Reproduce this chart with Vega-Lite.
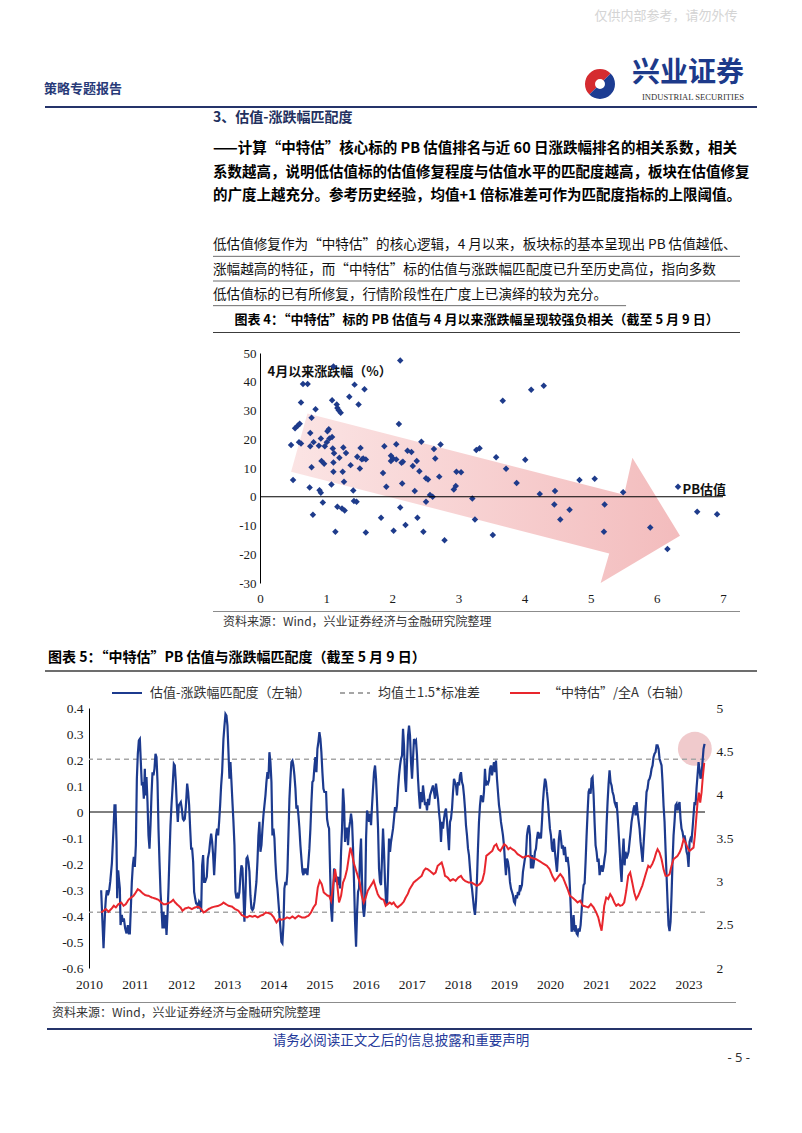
{
"$schema":"https://vega.github.io/schema/vega-lite/v6.json",
"padding":0,
"background":"white",
"spacing":0,
"align":"each",
"datasets":{
"blue":[{"t":2010.264,"v":-0.301},{"t":2010.315,"v":-0.524},{"t":2010.351,"v":-0.371},{"t":2010.366,"v":-0.332},{"t":2010.387,"v":-0.301},{"t":2010.409,"v":-0.32},{"t":2010.438,"v":-0.301},{"t":2010.46,"v":-0.269},{"t":2010.496,"v":-0.198},{"t":2010.532,"v":-0.064},{"t":2010.553,"v":0.026},{"t":2010.575,"v":0.026},{"t":2010.597,"v":-0.115},{"t":2010.611,"v":-0.332},{"t":2010.633,"v":-0.224},{"t":2010.655,"v":-0.269},{"t":2010.669,"v":-0.294},{"t":2010.684,"v":-0.435},{"t":2010.712,"v":-0.396},{"t":2010.734,"v":-0.422},{"t":2010.756,"v":-0.409},{"t":2010.785,"v":-0.448},{"t":2010.814,"v":-0.467},{"t":2010.842,"v":-0.435},{"t":2010.864,"v":-0.467},{"t":2010.886,"v":-0.467},{"t":2010.907,"v":-0.371},{"t":2010.929,"v":-0.269},{"t":2010.951,"v":-0.205},{"t":2010.972,"v":-0.173},{"t":2010.994,"v":-0.211},{"t":2011.016,"v":-0.128},{"t":2011.038,"v":0.128},{"t":2011.059,"v":0.224},{"t":2011.081,"v":0.275},{"t":2011.103,"v":0.281},{"t":2011.124,"v":0.192},{"t":2011.146,"v":0.102},{"t":2011.168,"v":0.115},{"t":2011.189,"v":0.051},{"t":2011.211,"v":0.166},{"t":2011.225,"v":0.064},{"t":2011.247,"v":0.134},{"t":2011.269,"v":0.038},{"t":2011.29,"v":-0.09},{"t":2011.312,"v":-0.141},{"t":2011.334,"v":-0.051},{"t":2011.355,"v":0.064},{"t":2011.377,"v":0.153},{"t":2011.399,"v":0.141},{"t":2011.42,"v":0.166},{"t":2011.442,"v":0.224},{"t":2011.464,"v":0.211},{"t":2011.486,"v":0.115},{"t":2011.507,"v":-0.064},{"t":2011.529,"v":-0.192},{"t":2011.551,"v":-0.307},{"t":2011.572,"v":-0.371},{"t":2011.594,"v":-0.448},{"t":2011.616,"v":-0.384},{"t":2011.637,"v":-0.448},{"t":2011.659,"v":-0.396},{"t":2011.681,"v":-0.473},{"t":2011.702,"v":-0.396},{"t":2011.724,"v":-0.294},{"t":2011.746,"v":-0.166},{"t":2011.767,"v":-0.051},{"t":2011.789,"v":0.026},{"t":2011.811,"v":0.09},{"t":2011.84,"v":0.185},{"t":2011.861,"v":0.179},{"t":2011.883,"v":0.115},{"t":2011.905,"v":0.026},{"t":2011.926,"v":-0.038},{"t":2011.948,"v":0.026},{"t":2011.97,"v":0.032},{"t":2011.991,"v":0.038},{"t":2012.013,"v":0.013},{"t":2012.035,"v":-0.026},{"t":2012.056,"v":-0.032},{"t":2012.078,"v":-0.026},{"t":2012.1,"v":0.019},{"t":2012.129,"v":0.109},{"t":2012.15,"v":0.077},{"t":2012.172,"v":0.026},{"t":2012.194,"v":-0.064},{"t":2012.215,"v":-0.141},{"t":2012.237,"v":-0.141},{"t":2012.259,"v":-0.192},{"t":2012.28,"v":-0.307},{"t":2012.302,"v":-0.332},{"t":2012.324,"v":-0.352},{"t":2012.345,"v":-0.352},{"t":2012.367,"v":-0.371},{"t":2012.389,"v":-0.345},{"t":2012.41,"v":-0.352},{"t":2012.432,"v":-0.384},{"t":2012.454,"v":-0.205},{"t":2012.475,"v":-0.166},{"t":2012.497,"v":-0.269},{"t":2012.519,"v":-0.269},{"t":2012.555,"v":-0.249},{"t":2012.577,"v":-0.179},{"t":2012.606,"v":-0.153},{"t":2012.627,"v":-0.115},{"t":2012.649,"v":-0.083},{"t":2012.671,"v":-0.115},{"t":2012.692,"v":-0.166},{"t":2012.714,"v":-0.243},{"t":2012.736,"v":-0.166},{"t":2012.757,"v":-0.09},{"t":2012.779,"v":-0.064},{"t":2012.801,"v":-0.09},{"t":2012.822,"v":-0.038},{"t":2012.844,"v":0.026},{"t":2012.866,"v":0.102},{"t":2012.887,"v":0.153},{"t":2012.916,"v":0.281},{"t":2012.938,"v":0.332},{"t":2012.96,"v":0.377},{"t":2012.981,"v":0.371},{"t":2013.003,"v":0.332},{"t":2013.025,"v":0.23},{"t":2013.046,"v":0.128},{"t":2013.068,"v":0.192},{"t":2013.09,"v":0.115},{"t":2013.111,"v":0.038},{"t":2013.133,"v":-0.038},{"t":2013.155,"v":-0.128},{"t":2013.176,"v":-0.307},{"t":2013.198,"v":-0.332},{"t":2013.22,"v":-0.32},{"t":2013.241,"v":-0.332},{"t":2013.263,"v":-0.307},{"t":2013.285,"v":-0.243},{"t":2013.306,"v":-0.205},{"t":2013.328,"v":-0.217},{"t":2013.35,"v":-0.32},{"t":2013.371,"v":-0.422},{"t":2013.393,"v":-0.32},{"t":2013.415,"v":-0.179},{"t":2013.436,"v":-0.173},{"t":2013.458,"v":-0.192},{"t":2013.48,"v":-0.23},{"t":2013.501,"v":-0.32},{"t":2013.523,"v":-0.371},{"t":2013.545,"v":-0.377},{"t":2013.566,"v":-0.371},{"t":2013.588,"v":-0.345},{"t":2013.61,"v":-0.307},{"t":2013.631,"v":-0.269},{"t":2013.653,"v":-0.192},{"t":2013.675,"v":-0.09},{"t":2013.696,"v":-0.038},{"t":2013.718,"v":-0.153},{"t":2013.74,"v":-0.128},{"t":2013.762,"v":-0.064},{"t":2013.783,"v":-0.013},{"t":2013.805,"v":0.026},{"t":2013.827,"v":0.064},{"t":2013.848,"v":0.115},{"t":2013.87,"v":0.153},{"t":2013.892,"v":0.128},{"t":2013.913,"v":0.23},{"t":2013.935,"v":0.192},{"t":2013.957,"v":0.115},{"t":2013.978,"v":-0.09},{"t":2014.0,"v":-0.064},{"t":2014.022,"v":-0.102},{"t":2014.043,"v":-0.192},{"t":2014.065,"v":-0.256},{"t":2014.087,"v":-0.294},{"t":2014.108,"v":-0.345},{"t":2014.13,"v":-0.396},{"t":2014.152,"v":-0.448},{"t":2014.173,"v":-0.499},{"t":2014.195,"v":-0.505},{"t":2014.217,"v":-0.435},{"t":2014.238,"v":-0.294},{"t":2014.26,"v":-0.269},{"t":2014.282,"v":-0.281},{"t":2014.303,"v":-0.23},{"t":2014.325,"v":-0.09},{"t":2014.347,"v":0.051},{"t":2014.368,"v":0.128},{"t":2014.39,"v":0.192},{"t":2014.412,"v":0.198},{"t":2014.433,"v":0.179},{"t":2014.455,"v":0.141},{"t":2014.477,"v":0.09},{"t":2014.498,"v":0.013},{"t":2014.52,"v":0.026},{"t":2014.542,"v":-0.013},{"t":2014.564,"v":-0.064},{"t":2014.585,"v":-0.128},{"t":2014.607,"v":-0.179},{"t":2014.629,"v":-0.23},{"t":2014.65,"v":-0.243},{"t":2014.672,"v":-0.217},{"t":2014.694,"v":-0.237},{"t":2014.715,"v":-0.217},{"t":2014.737,"v":-0.243},{"t":2014.759,"v":-0.192},{"t":2014.78,"v":-0.141},{"t":2014.802,"v":-0.064},{"t":2014.824,"v":0.038},{"t":2014.845,"v":0.115},{"t":2014.867,"v":0.121},{"t":2014.889,"v":0.173},{"t":2014.91,"v":0.211},{"t":2014.932,"v":0.153},{"t":2014.954,"v":0.243},{"t":2014.975,"v":0.269},{"t":2014.997,"v":0.307},{"t":2015.019,"v":0.281},{"t":2015.04,"v":0.23},{"t":2015.062,"v":0.153},{"t":2015.084,"v":0.09},{"t":2015.105,"v":0.077},{"t":2015.142,"v":0.077},{"t":2015.163,"v":-0.026},{"t":2015.185,"v":-0.051},{"t":2015.207,"v":-0.064},{"t":2015.228,"v":-0.217},{"t":2015.25,"v":-0.371},{"t":2015.272,"v":-0.422},{"t":2015.293,"v":-0.32},{"t":2015.315,"v":-0.217},{"t":2015.337,"v":-0.249},{"t":2015.358,"v":-0.269},{"t":2015.38,"v":-0.249},{"t":2015.402,"v":-0.281},{"t":2015.423,"v":-0.249},{"t":2015.445,"v":-0.294},{"t":2015.467,"v":-0.153},{"t":2015.488,"v":-0.064},{"t":2015.51,"v":0.09},{"t":2015.532,"v":0.026},{"t":2015.553,"v":-0.115},{"t":2015.575,"v":-0.064},{"t":2015.597,"v":-0.064},{"t":2015.618,"v":-0.128},{"t":2015.64,"v":-0.064},{"t":2015.662,"v":-0.038},{"t":2015.683,"v":-0.006},{"t":2015.705,"v":-0.038},{"t":2015.727,"v":-0.141},{"t":2015.748,"v":-0.269},{"t":2015.77,"v":-0.422},{"t":2015.792,"v":-0.518},{"t":2015.814,"v":-0.384},{"t":2015.835,"v":-0.307},{"t":2015.857,"v":-0.294},{"t":2015.879,"v":-0.166},{"t":2015.9,"v":-0.102},{"t":2015.922,"v":-0.269},{"t":2015.944,"v":-0.371},{"t":2015.965,"v":-0.403},{"t":2015.987,"v":-0.358},{"t":2016.009,"v":-0.102},{"t":2016.03,"v":0.006},{"t":2016.052,"v":-0.013},{"t":2016.074,"v":-0.038},{"t":2016.095,"v":-0.006},{"t":2016.117,"v":-0.051},{"t":2016.139,"v":0.026},{"t":2016.16,"v":0.09},{"t":2016.182,"v":0.153},{"t":2016.204,"v":0.179},{"t":2016.225,"v":0.128},{"t":2016.247,"v":0.038},{"t":2016.269,"v":-0.064},{"t":2016.29,"v":-0.217},{"t":2016.312,"v":-0.269},{"t":2016.334,"v":-0.281},{"t":2016.355,"v":-0.179},{"t":2016.377,"v":-0.064},{"t":2016.399,"v":-0.153},{"t":2016.42,"v":-0.269},{"t":2016.442,"v":-0.345},{"t":2016.464,"v":-0.358},{"t":2016.485,"v":-0.243},{"t":2016.507,"v":-0.102},{"t":2016.529,"v":-0.153},{"t":2016.55,"v":-0.115},{"t":2016.572,"v":-0.09},{"t":2016.594,"v":-0.064},{"t":2016.615,"v":-0.026},{"t":2016.637,"v":0.019},{"t":2016.659,"v":0.0},{"t":2016.68,"v":0.026},{"t":2016.702,"v":0.09},{"t":2016.724,"v":0.141},{"t":2016.746,"v":0.179},{"t":2016.767,"v":0.205},{"t":2016.789,"v":0.217},{"t":2016.811,"v":0.32},{"t":2016.832,"v":0.256},{"t":2016.854,"v":0.128},{"t":2016.876,"v":0.077},{"t":2016.897,"v":0.192},{"t":2016.919,"v":0.294},{"t":2016.941,"v":0.332},{"t":2016.962,"v":0.294},{"t":2016.984,"v":0.192},{"t":2017.006,"v":0.128},{"t":2017.027,"v":0.205},{"t":2017.049,"v":0.281},{"t":2017.071,"v":0.269},{"t":2017.092,"v":0.275},{"t":2017.114,"v":0.217},{"t":2017.136,"v":0.128},{"t":2017.157,"v":0.064},{"t":2017.179,"v":0.013},{"t":2017.201,"v":0.077},{"t":2017.223,"v":0.038},{"t":2017.244,"v":0.102},{"t":2017.266,"v":0.064},{"t":2017.288,"v":0.026},{"t":2017.309,"v":0.038},{"t":2017.331,"v":0.006},{"t":2017.353,"v":0.051},{"t":2017.374,"v":0.026},{"t":2017.396,"v":0.064},{"t":2017.418,"v":0.077},{"t":2017.439,"v":0.09},{"t":2017.461,"v":0.102},{"t":2017.483,"v":0.077},{"t":2017.504,"v":0.051},{"t":2017.526,"v":0.109},{"t":2017.548,"v":0.077},{"t":2017.569,"v":0.051},{"t":2017.591,"v":0.0},{"t":2017.613,"v":-0.038},{"t":2017.634,"v":-0.115},{"t":2017.656,"v":-0.038},{"t":2017.678,"v":-0.064},{"t":2017.699,"v":-0.026},{"t":2017.721,"v":0.0},{"t":2017.743,"v":0.013},{"t":2017.765,"v":-0.038},{"t":2017.786,"v":-0.09},{"t":2017.808,"v":-0.147},{"t":2017.83,"v":-0.038},{"t":2017.851,"v":-0.026},{"t":2017.873,"v":0.013},{"t":2017.895,"v":0.077},{"t":2017.916,"v":0.128},{"t":2017.938,"v":0.115},{"t":2017.96,"v":0.102},{"t":2017.981,"v":0.064},{"t":2018.003,"v":0.115},{"t":2018.025,"v":0.102},{"t":2018.046,"v":0.141},{"t":2018.068,"v":0.153},{"t":2018.09,"v":0.115},{"t":2018.111,"v":0.102},{"t":2018.133,"v":0.064},{"t":2018.155,"v":0.013},{"t":2018.176,"v":-0.051},{"t":2018.198,"v":-0.09},{"t":2018.22,"v":-0.141},{"t":2018.241,"v":-0.166},{"t":2018.263,"v":-0.217},{"t":2018.285,"v":-0.269},{"t":2018.306,"v":-0.294},{"t":2018.328,"v":-0.332},{"t":2018.35,"v":-0.371},{"t":2018.371,"v":-0.396},{"t":2018.393,"v":-0.345},{"t":2018.415,"v":-0.256},{"t":2018.436,"v":-0.141},{"t":2018.458,"v":-0.038},{"t":2018.48,"v":0.026},{"t":2018.501,"v":0.064},{"t":2018.523,"v":0.051},{"t":2018.545,"v":0.038},{"t":2018.566,"v":0.077},{"t":2018.588,"v":0.166},{"t":2018.61,"v":0.102},{"t":2018.631,"v":0.115},{"t":2018.653,"v":0.109},{"t":2018.675,"v":0.121},{"t":2018.696,"v":0.166},{"t":2018.718,"v":0.179},{"t":2018.74,"v":0.141},{"t":2018.761,"v":0.166},{"t":2018.783,"v":0.192},{"t":2018.805,"v":0.153},{"t":2018.827,"v":0.198},{"t":2018.848,"v":0.128},{"t":2018.87,"v":0.077},{"t":2018.892,"v":0.026},{"t":2018.913,"v":0.0},{"t":2018.935,"v":-0.038},{"t":2018.957,"v":-0.064},{"t":2018.978,"v":-0.09},{"t":2019.0,"v":-0.128},{"t":2019.022,"v":-0.192},{"t":2019.043,"v":-0.243},{"t":2019.065,"v":-0.179},{"t":2019.087,"v":-0.192},{"t":2019.108,"v":-0.217},{"t":2019.13,"v":-0.269},{"t":2019.152,"v":-0.294},{"t":2019.173,"v":-0.307},{"t":2019.195,"v":-0.32},{"t":2019.217,"v":-0.345},{"t":2019.238,"v":-0.352},{"t":2019.26,"v":-0.32},{"t":2019.282,"v":-0.332},{"t":2019.303,"v":-0.307},{"t":2019.325,"v":-0.32},{"t":2019.347,"v":-0.281},{"t":2019.368,"v":-0.294},{"t":2019.39,"v":-0.281},{"t":2019.412,"v":-0.23},{"t":2019.433,"v":-0.205},{"t":2019.455,"v":-0.179},{"t":2019.477,"v":-0.166},{"t":2019.499,"v":-0.09},{"t":2019.52,"v":-0.064},{"t":2019.542,"v":-0.051},{"t":2019.564,"v":-0.09},{"t":2019.585,"v":-0.217},{"t":2019.607,"v":-0.166},{"t":2019.629,"v":-0.217},{"t":2019.65,"v":-0.192},{"t":2019.672,"v":-0.153},{"t":2019.694,"v":-0.141},{"t":2019.715,"v":-0.102},{"t":2019.737,"v":-0.077},{"t":2019.759,"v":-0.102},{"t":2019.78,"v":-0.09},{"t":2019.802,"v":-0.102},{"t":2019.824,"v":-0.038},{"t":2019.845,"v":0.038},{"t":2019.867,"v":0.09},{"t":2019.889,"v":0.128},{"t":2019.91,"v":0.115},{"t":2019.932,"v":0.077},{"t":2019.954,"v":0.038},{"t":2019.975,"v":-0.013},{"t":2019.997,"v":-0.064},{"t":2020.019,"v":-0.09},{"t":2020.04,"v":-0.141},{"t":2020.062,"v":-0.153},{"t":2020.084,"v":-0.102},{"t":2020.105,"v":-0.153},{"t":2020.127,"v":-0.192},{"t":2020.149,"v":-0.23},{"t":2020.171,"v":-0.166},{"t":2020.192,"v":-0.102},{"t":2020.214,"v":-0.07},{"t":2020.236,"v":-0.102},{"t":2020.257,"v":-0.141},{"t":2020.279,"v":-0.128},{"t":2020.301,"v":-0.166},{"t":2020.322,"v":-0.134},{"t":2020.351,"v":-0.192},{"t":2020.38,"v":-0.173},{"t":2020.409,"v":-0.217},{"t":2020.431,"v":-0.294},{"t":2020.452,"v":-0.384},{"t":2020.467,"v":-0.46},{"t":2020.488,"v":-0.448},{"t":2020.51,"v":-0.396},{"t":2020.532,"v":-0.46},{"t":2020.553,"v":-0.435},{"t":2020.575,"v":-0.467},{"t":2020.597,"v":-0.473},{"t":2020.618,"v":-0.448},{"t":2020.64,"v":-0.46},{"t":2020.662,"v":-0.435},{"t":2020.683,"v":-0.384},{"t":2020.705,"v":-0.32},{"t":2020.727,"v":-0.281},{"t":2020.749,"v":-0.275},{"t":2020.77,"v":-0.192},{"t":2020.792,"v":-0.09},{"t":2020.814,"v":0.0},{"t":2020.835,"v":0.077},{"t":2020.857,"v":0.09},{"t":2020.879,"v":0.07},{"t":2020.9,"v":0.128},{"t":2020.922,"v":0.134},{"t":2020.944,"v":0.064},{"t":2020.965,"v":-0.038},{"t":2020.987,"v":-0.128},{"t":2021.009,"v":-0.153},{"t":2021.03,"v":-0.192},{"t":2021.052,"v":-0.179},{"t":2021.074,"v":-0.243},{"t":2021.095,"v":-0.217},{"t":2021.117,"v":-0.205},{"t":2021.139,"v":-0.23},{"t":2021.16,"v":-0.211},{"t":2021.182,"v":-0.179},{"t":2021.204,"v":-0.153},{"t":2021.225,"v":-0.051},{"t":2021.247,"v":0.038},{"t":2021.269,"v":0.109},{"t":2021.29,"v":0.16},{"t":2021.312,"v":0.115},{"t":2021.334,"v":0.102},{"t":2021.355,"v":0.077},{"t":2021.377,"v":0.064},{"t":2021.399,"v":0.038},{"t":2021.42,"v":0.026},{"t":2021.442,"v":0.038},{"t":2021.464,"v":-0.013},{"t":2021.486,"v":-0.077},{"t":2021.507,"v":-0.141},{"t":2021.529,"v":-0.217},{"t":2021.551,"v":-0.269},{"t":2021.572,"v":-0.166},{"t":2021.594,"v":-0.102},{"t":2021.616,"v":-0.205},{"t":2021.637,"v":-0.153},{"t":2021.659,"v":-0.179},{"t":2021.681,"v":-0.166},{"t":2021.702,"v":-0.153},{"t":2021.724,"v":-0.115},{"t":2021.746,"v":-0.077},{"t":2021.767,"v":-0.038},{"t":2021.789,"v":-0.013},{"t":2021.811,"v":0.013},{"t":2021.832,"v":0.026},{"t":2021.854,"v":-0.013},{"t":2021.876,"v":0.038},{"t":2021.897,"v":0.0},{"t":2021.919,"v":-0.032},{"t":2021.941,"v":-0.064},{"t":2021.962,"v":-0.115},{"t":2021.984,"v":-0.153},{"t":2022.006,"v":-0.192},{"t":2022.027,"v":-0.128},{"t":2022.049,"v":-0.064},{"t":2022.071,"v":0.013},{"t":2022.092,"v":0.077},{"t":2022.114,"v":0.09},{"t":2022.136,"v":0.121},{"t":2022.158,"v":0.128},{"t":2022.179,"v":0.141},{"t":2022.201,"v":0.166},{"t":2022.223,"v":0.179},{"t":2022.244,"v":0.211},{"t":2022.266,"v":0.224},{"t":2022.288,"v":0.23},{"t":2022.309,"v":0.256},{"t":2022.331,"v":0.256},{"t":2022.353,"v":0.243},{"t":2022.374,"v":0.205},{"t":2022.396,"v":0.192},{"t":2022.418,"v":0.179},{"t":2022.439,"v":0.115},{"t":2022.461,"v":0.026},{"t":2022.483,"v":-0.038},{"t":2022.504,"v":-0.141},{"t":2022.526,"v":-0.243},{"t":2022.548,"v":-0.345},{"t":2022.569,"v":-0.435},{"t":2022.591,"v":-0.458},{"t":2022.613,"v":-0.422},{"t":2022.634,"v":-0.32},{"t":2022.656,"v":-0.192},{"t":2022.678,"v":-0.09},{"t":2022.699,"v":-0.038},{"t":2022.721,"v":0.026},{"t":2022.743,"v":0.032},{"t":2022.764,"v":0.006},{"t":2022.786,"v":0.026},{"t":2022.808,"v":0.038},{"t":2022.829,"v":-0.026},{"t":2022.851,"v":-0.064},{"t":2022.873,"v":-0.077},{"t":2022.895,"v":-0.102},{"t":2022.916,"v":-0.09},{"t":2022.938,"v":-0.115},{"t":2022.96,"v":-0.153},{"t":2022.981,"v":-0.166},{"t":2023.003,"v":-0.211},{"t":2023.025,"v":-0.115},{"t":2023.046,"v":-0.102},{"t":2023.068,"v":-0.109},{"t":2023.09,"v":-0.064},{"t":2023.111,"v":-0.013},{"t":2023.133,"v":0.038},{"t":2023.155,"v":0.026},{"t":2023.176,"v":0.09},{"t":2023.198,"v":0.141},{"t":2023.22,"v":0.192},{"t":2023.241,"v":0.166},{"t":2023.263,"v":0.128},{"t":2023.285,"v":0.141},{"t":2023.306,"v":0.192},{"t":2023.328,"v":0.243},{"t":2023.35,"v":0.262}],
"red":[{"t":2010.264,"r":2.641},{"t":2010.315,"r":2.66},{"t":2010.366,"r":2.68},{"t":2010.423,"r":2.649},{"t":2010.481,"r":2.68},{"t":2010.539,"r":2.718},{"t":2010.582,"r":2.699},{"t":2010.64,"r":2.737},{"t":2010.698,"r":2.756},{"t":2010.749,"r":2.718},{"t":2010.799,"r":2.737},{"t":2010.857,"r":2.787},{"t":2010.915,"r":2.814},{"t":2010.965,"r":2.833},{"t":2011.016,"r":2.872},{"t":2011.059,"r":2.91},{"t":2011.11,"r":2.891},{"t":2011.16,"r":2.864},{"t":2011.218,"r":2.841},{"t":2011.29,"r":2.833},{"t":2011.363,"r":2.814},{"t":2011.435,"r":2.802},{"t":2011.507,"r":2.787},{"t":2011.565,"r":2.756},{"t":2011.616,"r":2.737},{"t":2011.666,"r":2.737},{"t":2011.724,"r":2.749},{"t":2011.782,"r":2.764},{"t":2011.825,"r":2.787},{"t":2011.869,"r":2.756},{"t":2011.926,"r":2.726},{"t":2011.984,"r":2.699},{"t":2012.028,"r":2.66},{"t":2012.085,"r":2.687},{"t":2012.158,"r":2.699},{"t":2012.23,"r":2.68},{"t":2012.302,"r":2.699},{"t":2012.374,"r":2.707},{"t":2012.432,"r":2.68},{"t":2012.483,"r":2.641},{"t":2012.519,"r":2.649},{"t":2012.591,"r":2.68},{"t":2012.663,"r":2.699},{"t":2012.736,"r":2.71},{"t":2012.808,"r":2.718},{"t":2012.88,"r":2.737},{"t":2012.916,"r":2.756},{"t":2012.967,"r":2.737},{"t":2013.025,"r":2.718},{"t":2013.097,"r":2.71},{"t":2013.169,"r":2.68},{"t":2013.241,"r":2.66},{"t":2013.314,"r":2.61},{"t":2013.371,"r":2.595},{"t":2013.429,"r":2.584},{"t":2013.487,"r":2.603},{"t":2013.545,"r":2.591},{"t":2013.603,"r":2.603},{"t":2013.66,"r":2.584},{"t":2013.718,"r":2.603},{"t":2013.776,"r":2.614},{"t":2013.834,"r":2.641},{"t":2013.892,"r":2.634},{"t":2013.949,"r":2.622},{"t":2014.007,"r":2.584},{"t":2014.065,"r":2.526},{"t":2014.123,"r":2.565},{"t":2014.181,"r":2.557},{"t":2014.238,"r":2.565},{"t":2014.296,"r":2.584},{"t":2014.354,"r":2.572},{"t":2014.412,"r":2.595},{"t":2014.47,"r":2.572},{"t":2014.542,"r":2.603},{"t":2014.614,"r":2.584},{"t":2014.686,"r":2.584},{"t":2014.759,"r":2.603},{"t":2014.816,"r":2.641},{"t":2014.867,"r":2.699},{"t":2014.918,"r":2.737},{"t":2014.962,"r":2.929},{"t":2015.005,"r":3.006},{"t":2015.048,"r":2.967},{"t":2015.092,"r":2.871},{"t":2015.135,"r":2.852},{"t":2015.178,"r":2.833},{"t":2015.207,"r":2.833},{"t":2015.25,"r":2.776},{"t":2015.293,"r":2.948},{"t":2015.337,"r":3.14},{"t":2015.38,"r":2.987},{"t":2015.423,"r":2.756},{"t":2015.467,"r":2.833},{"t":2015.51,"r":2.987},{"t":2015.553,"r":3.044},{"t":2015.597,"r":3.14},{"t":2015.64,"r":3.293},{"t":2015.669,"r":3.389},{"t":2015.698,"r":3.332},{"t":2015.741,"r":3.216},{"t":2015.784,"r":3.14},{"t":2015.828,"r":3.063},{"t":2015.871,"r":2.987},{"t":2015.915,"r":2.833},{"t":2015.958,"r":2.756},{"t":2016.002,"r":2.814},{"t":2016.045,"r":2.891},{"t":2016.088,"r":2.929},{"t":2016.132,"r":2.967},{"t":2016.175,"r":3.006},{"t":2016.218,"r":2.929},{"t":2016.262,"r":2.852},{"t":2016.305,"r":2.814},{"t":2016.348,"r":2.795},{"t":2016.392,"r":2.787},{"t":2016.435,"r":2.718},{"t":2016.478,"r":2.737},{"t":2016.522,"r":2.756},{"t":2016.565,"r":2.737},{"t":2016.608,"r":2.756},{"t":2016.652,"r":2.718},{"t":2016.695,"r":2.699},{"t":2016.738,"r":2.718},{"t":2016.782,"r":2.737},{"t":2016.825,"r":2.764},{"t":2016.869,"r":2.814},{"t":2016.912,"r":2.852},{"t":2016.955,"r":2.91},{"t":2016.999,"r":2.948},{"t":2017.042,"r":2.987},{"t":2017.085,"r":3.006},{"t":2017.129,"r":3.025},{"t":2017.172,"r":3.044},{"t":2017.215,"r":3.063},{"t":2017.259,"r":3.121},{"t":2017.302,"r":3.148},{"t":2017.345,"r":3.14},{"t":2017.389,"r":3.121},{"t":2017.432,"r":3.102},{"t":2017.475,"r":3.083},{"t":2017.519,"r":3.102},{"t":2017.562,"r":3.179},{"t":2017.605,"r":3.198},{"t":2017.649,"r":3.217},{"t":2017.692,"r":3.14},{"t":2017.721,"r":3.063},{"t":2017.779,"r":3.044},{"t":2017.837,"r":3.006},{"t":2017.895,"r":3.025},{"t":2017.952,"r":3.006},{"t":2018.01,"r":3.044},{"t":2018.068,"r":3.063},{"t":2018.111,"r":3.025},{"t":2018.155,"r":3.006},{"t":2018.227,"r":2.987},{"t":2018.299,"r":2.987},{"t":2018.357,"r":2.967},{"t":2018.415,"r":2.948},{"t":2018.473,"r":2.967},{"t":2018.53,"r":3.006},{"t":2018.574,"r":3.102},{"t":2018.617,"r":3.294},{"t":2018.66,"r":3.313},{"t":2018.704,"r":3.332},{"t":2018.747,"r":3.351},{"t":2018.79,"r":3.409},{"t":2018.834,"r":3.428},{"t":2018.877,"r":3.37},{"t":2018.92,"r":3.351},{"t":2018.964,"r":3.389},{"t":2019.007,"r":3.428},{"t":2019.051,"r":3.409},{"t":2019.094,"r":3.37},{"t":2019.137,"r":3.389},{"t":2019.181,"r":3.37},{"t":2019.238,"r":3.351},{"t":2019.296,"r":3.313},{"t":2019.354,"r":3.294},{"t":2019.412,"r":3.274},{"t":2019.47,"r":3.286},{"t":2019.527,"r":3.294},{"t":2019.585,"r":3.274},{"t":2019.643,"r":3.263},{"t":2019.701,"r":3.255},{"t":2019.759,"r":3.236},{"t":2019.817,"r":3.217},{"t":2019.874,"r":3.198},{"t":2019.932,"r":3.179},{"t":2019.99,"r":3.14},{"t":2020.048,"r":3.063},{"t":2020.106,"r":3.006},{"t":2020.163,"r":3.044},{"t":2020.221,"r":3.083},{"t":2020.279,"r":3.044},{"t":2020.322,"r":2.987},{"t":2020.38,"r":2.91},{"t":2020.431,"r":2.833},{"t":2020.481,"r":2.814},{"t":2020.539,"r":2.787},{"t":2020.597,"r":2.756},{"t":2020.655,"r":2.776},{"t":2020.712,"r":2.718},{"t":2020.77,"r":2.71},{"t":2020.828,"r":2.699},{"t":2020.886,"r":2.737},{"t":2020.944,"r":2.699},{"t":2021.001,"r":2.641},{"t":2021.045,"r":2.584},{"t":2021.088,"r":2.488},{"t":2021.117,"r":2.43},{"t":2021.146,"r":2.565},{"t":2021.175,"r":2.718},{"t":2021.218,"r":2.814},{"t":2021.262,"r":2.795},{"t":2021.305,"r":2.852},{"t":2021.348,"r":2.814},{"t":2021.392,"r":2.756},{"t":2021.435,"r":2.718},{"t":2021.478,"r":2.737},{"t":2021.522,"r":2.718},{"t":2021.565,"r":2.726},{"t":2021.608,"r":2.756},{"t":2021.652,"r":2.891},{"t":2021.695,"r":3.063},{"t":2021.738,"r":3.102},{"t":2021.782,"r":2.987},{"t":2021.825,"r":2.871},{"t":2021.868,"r":2.795},{"t":2021.912,"r":2.833},{"t":2021.955,"r":2.891},{"t":2021.999,"r":2.948},{"t":2022.042,"r":3.025},{"t":2022.085,"r":3.102},{"t":2022.129,"r":3.179},{"t":2022.172,"r":3.16},{"t":2022.215,"r":3.198},{"t":2022.259,"r":3.255},{"t":2022.302,"r":3.332},{"t":2022.331,"r":3.37},{"t":2022.374,"r":3.332},{"t":2022.418,"r":3.255},{"t":2022.461,"r":3.14},{"t":2022.504,"r":3.063},{"t":2022.548,"r":3.063},{"t":2022.591,"r":3.083},{"t":2022.634,"r":3.179},{"t":2022.678,"r":3.255},{"t":2022.721,"r":3.274},{"t":2022.764,"r":3.294},{"t":2022.808,"r":3.332},{"t":2022.851,"r":3.389},{"t":2022.895,"r":3.485},{"t":2022.938,"r":3.447},{"t":2022.981,"r":3.389},{"t":2023.025,"r":3.351},{"t":2023.068,"r":3.37},{"t":2023.111,"r":3.389},{"t":2023.14,"r":3.524},{"t":2023.169,"r":3.716},{"t":2023.198,"r":3.908},{"t":2023.227,"r":4.023},{"t":2023.256,"r":3.908},{"t":2023.285,"r":4.023},{"t":2023.314,"r":4.214},{"t":2023.343,"r":4.367}],
"pts":[{"pb":0.47,"chg":18},{"pb":0.5,"chg":5.8},{"pb":0.53,"chg":23.8},{"pb":0.57,"chg":24.7},{"pb":0.6,"chg":25.4},{"pb":0.59,"chg":19},{"pb":0.62,"chg":18.5},{"pb":0.62,"chg":32.8},{"pb":0.65,"chg":39.2},{"pb":0.72,"chg":39.2},{"pb":0.75,"chg":3.2},{"pb":0.76,"chg":17.6},{"pb":0.76,"chg":22.2},{"pb":0.78,"chg":27.5},{"pb":0.78,"chg":10.3},{"pb":0.81,"chg":19},{"pb":0.8,"chg":-6.3},{"pb":0.84,"chg":30.4},{"pb":0.89,"chg":17.7},{"pb":0.9,"chg":2.3},{"pb":0.92,"chg":20.3},{"pb":0.92,"chg":1.4},{"pb":0.93,"chg":12.4},{"pb":0.95,"chg":-2},{"pb":0.97,"chg":11.5},{"pb":0.98,"chg":17.6},{"pb":1.01,"chg":19},{"pb":1.02,"chg":22.8},{"pb":1.04,"chg":23.5},{"pb":1.05,"chg":20.3},{"pb":1.08,"chg":4.3},{"pb":1.09,"chg":20.8},{"pb":1.09,"chg":33.6},{"pb":1.1,"chg":16.8},{"pb":1.11,"chg":8.7},{"pb":1.11,"chg":11.9},{"pb":1.11,"chg":45.3},{"pb":1.12,"chg":15.1},{"pb":1.14,"chg":-12.2},{"pb":1.16,"chg":32.1},{"pb":1.17,"chg":-3.5},{"pb":1.17,"chg":30.9},{"pb":1.19,"chg":30.1},{"pb":1.2,"chg":13.6},{"pb":1.22,"chg":29.2},{"pb":1.24,"chg":-4.1},{"pb":1.25,"chg":8.7},{"pb":1.26,"chg":17.1},{"pb":1.27,"chg":5.2},{"pb":1.28,"chg":-4.8},{"pb":1.3,"chg":15.2},{"pb":1.35,"chg":34.8},{"pb":1.37,"chg":11},{"pb":1.41,"chg":2.2},{"pb":1.42,"chg":-1.5},{"pb":1.43,"chg":39},{"pb":1.46,"chg":-1.7},{"pb":1.47,"chg":13.9},{"pb":1.49,"chg":32.1},{"pb":1.51,"chg":9.8},{"pb":1.52,"chg":17},{"pb":1.54,"chg":13},{"pb":1.56,"chg":13.3},{"pb":1.58,"chg":37.4},{"pb":1.6,"chg":13},{"pb":1.6,"chg":-12.4},{"pb":1.83,"chg":-7.3},{"pb":1.86,"chg":8.3},{"pb":1.88,"chg":17.6},{"pb":1.91,"chg":3.5},{"pb":1.98,"chg":14.3},{"pb":1.98,"chg":12.4},{"pb":2.01,"chg":13.3},{"pb":2.02,"chg":-11.8},{"pb":2.06,"chg":18.3},{"pb":2.06,"chg":13},{"pb":2.1,"chg":25.3},{"pb":2.12,"chg":47.4},{"pb":2.12,"chg":-3.7},{"pb":2.14,"chg":11.8},{"pb":2.15,"chg":4.6},{"pb":2.16,"chg":12.2},{"pb":2.2,"chg":-9.8},{"pb":2.23,"chg":16},{"pb":2.29,"chg":15.6},{"pb":2.31,"chg":10.7},{"pb":2.34,"chg":2},{"pb":2.37,"chg":12.4},{"pb":2.38,"chg":-7.3},{"pb":2.41,"chg":8.9},{"pb":2.44,"chg":19.1},{"pb":2.47,"chg":-12.2},{"pb":2.51,"chg":-1.7},{"pb":2.51,"chg":6.4},{"pb":2.54,"chg":6},{"pb":2.57,"chg":0.6},{"pb":2.61,"chg":0},{"pb":2.63,"chg":16.6},{"pb":2.65,"chg":13.3},{"pb":2.71,"chg":7},{"pb":2.73,"chg":18.2},{"pb":2.79,"chg":-15.1},{"pb":2.93,"chg":2.5},{"pb":2.96,"chg":3.7},{"pb":2.97,"chg":8.7},{"pb":3.04,"chg":8.5},{"pb":3.21,"chg":-0.6},{"pb":3.25,"chg":-7.9},{"pb":3.27,"chg":16.3},{"pb":3.32,"chg":16.9},{"pb":3.52,"chg":-13.3},{"pb":3.57,"chg":13.7},{"pb":3.67,"chg":33.4},{"pb":3.72,"chg":9.7},{"pb":3.88,"chg":4.8},{"pb":4.01,"chg":12.9},{"pb":4.1,"chg":37.2},{"pb":4.23,"chg":1},{"pb":4.29,"chg":38.6},{"pb":4.45,"chg":-2.7},{"pb":4.46,"chg":2},{"pb":4.54,"chg":-7.9},{"pb":4.68,"chg":-4.5},{"pb":4.83,"chg":5.8},{"pb":5.06,"chg":6.3},{"pb":5.2,"chg":-12.2},{"pb":5.21,"chg":-2.7},{"pb":5.49,"chg":1.6},{"pb":5.9,"chg":-10.7},{"pb":6.16,"chg":-18.2},{"pb":6.32,"chg":3.5},{"pb":6.61,"chg":-5.2},{"pb":6.91,"chg":-6.1}],
"arrow":[{"k":1,"pb":0.717,"chg":29.0},{"k":2,"pb":5.505,"chg":0.7},{"k":3,"pb":5.63,"chg":13.6},{"k":4,"pb":6.35,"chg":-13.6},{"k":5,"pb":5.15,"chg":-30.0},{"k":6,"pb":5.28,"chg":-19.7},{"k":7,"pb":0.47,"chg":8.7},{"k":8,"pb":0.717,"chg":29.0}]
},
"vconcat":[
{"hconcat":[
 {"width":586,"height":32,"data":{"values":[]},"mark":"point"},
 {"width":160,"height":32,"data":{"values":[{"text":"仅供内部参考，请勿外传"}]},"mark":{"type":"text","font":"Noto Sans CJK SC","fontSize":13,"color":"#d4d4d4"},"encoding":{"text":{"field":"text","type":"nominal"}}}
],"spacing":0,"bounds":"flush","align":"each"},
{"width":10,"height":28,"data":{"values":[]},"mark":"point"},
{"hconcat":[
 {"width":44,"height":44,"data":{"values":[]},"mark":"point"},
 {"width":200,"height":44,"data":{"values":[{"text":"策略专题报告"}]},"mark":{"type":"text","align":"left","font":"Noto Sans CJK SC","fontSize":13,"fontWeight":"bold","color":"#283a78","dy":5},"encoding":{"text":{"field":"text","type":"nominal"},"x":{"datum":0,"type":"quantitative","scale":{"domain":[0,1]},"axis":null}}},
 {"width":339,"height":44,"data":{"values":[]},"mark":"point"},
 {"width":34,"height":44,"data":{"values":[{}]},"layer":[
   {"mark":{"type":"arc","theta":-2.356,"theta2":0.785,"innerRadius":5,"outerRadius":15,"color":"#d52b30"},"encoding":{}},
   {"mark":{"type":"arc","theta":0.785,"theta2":3.927,"innerRadius":5,"outerRadius":15,"color":"#1c3c92"},"encoding":{}}
 ]},
 {"width":4,"height":44,"data":{"values":[]},"mark":"point"},
 {"width":123,"height":44,"data":{"values":[{"cn":"兴业证券","en":"INDUSTRIAL SECURITIES"}]},"layer":[
   {"mark":{"type":"text","align":"right","font":"Noto Sans CJK SC","fontSize":28,"fontWeight":"bold","color":"#1d3a8a","dy":-10},"encoding":{"text":{"field":"cn","type":"nominal"},"x":{"datum":1,"type":"quantitative","scale":{"domain":[0,1]},"axis":null}}},
   {"mark":{"type":"text","align":"right","font":"Liberation Serif","fontSize":8.6,"color":"#333333","dy":13},"encoding":{"text":{"field":"en","type":"nominal"},"x":{"datum":1,"type":"quantitative","scale":{"domain":[0,1]},"axis":null}}}
 ]}
],"spacing":0,"bounds":"flush","align":"each"},
{"hconcat":[
 {"width":45,"height":2,"data":{"values":[]},"mark":"point"},
 {"width":712,"height":2,"data":{"values":[{}]},"mark":{"type":"rule","color":"#25346a","strokeWidth":2},"encoding":{"y":{"datum":0.5,"type":"quantitative","scale":{"domain":[0,1]},"axis":null}}}
],"spacing":0,"bounds":"flush","align":"each"},
{"hconcat":[
 {"width":213,"height":20,"data":{"values":[]},"mark":"point"},
 {"width":527,"height":20,"data":{"values":[{"text":"3、估值-涨跌幅匹配度"}]},"mark":{"type":"text","align":"left","font":"Noto Sans CJK SC","fontSize":14,"fontWeight":"bold","color":"#22305e"},"encoding":{"text":{"field":"text","type":"nominal"},"x":{"datum":0,"type":"quantitative","scale":{"domain":[0,1]},"axis":null}}}
],"spacing":0,"bounds":"flush","align":"each"},
{"width":10,"height":9,"data":{"values":[]},"mark":"point"},
{"hconcat":[
 {"width":213,"height":71,"data":{"values":[]},"mark":"point"},
 {"width":527,"height":71,"data":{"values":[{"line":1,"text":"——计算“中特估”核心标的 PB 估值排名与近 60 日涨跌幅排名的相关系数，相关"},{"line":2,"text":"系数越高，说明低估值标的估值修复程度与估值水平的匹配度越高，板块在估值修复"},{"line":3,"text":"的广度上越充分。参考历史经验，均值+1 倍标准差可作为匹配度指标的上限阈值。"}]},"mark":{"type":"text","align":"left","baseline":"middle","font":"Noto Sans CJK SC","fontSize":14.5,"fontWeight":"bold","color":"#000000"},"encoding":{"text":{"field":"text","type":"nominal"},"y":{"field":"line","type":"ordinal","scale":{"type":"point","padding":0.5},"axis":null},"x":{"datum":0,"type":"quantitative","scale":{"domain":[0,1]},"axis":null}}}
],"spacing":0,"bounds":"flush","align":"each"},
{"width":10,"height":25,"data":{"values":[]},"mark":"point"},
{"hconcat":[
 {"width":213,"height":74,"data":{"values":[]},"mark":"point"},
 {"width":527,"height":74,"data":{"values":[{"line":1,"chars":37,"text":"低估值修复作为“中特估”的核心逻辑，4 月以来，板块标的基本呈现出 PB 估值越低、"},{"line":2,"chars":37,"text":"涨幅越高的特征，而“中特估”标的估值与涨跌幅匹配度已升至历史高位，指向多数"},{"line":3,"chars":29,"text":"低估值标的已有所修复，行情阶段性在广度上已演绎的较为充分。"}]},"layer":[
   {"mark":{"type":"text","align":"left","baseline":"middle","font":"Noto Sans CJK SC","fontSize":13.6,"color":"#111111"},"encoding":{"text":{"field":"text","type":"nominal"},"y":{"field":"line","type":"ordinal","scale":{"type":"point","padding":0.5},"axis":null},"x":{"datum":0,"type":"quantitative","scale":{"domain":[0,37]},"axis":null}}},
   {"mark":{"type":"rule","color":"#6d6d6d","strokeWidth":1,"yOffset":11},"encoding":{"y":{"field":"line","type":"ordinal","scale":{"type":"point","padding":0.5},"axis":null},"x":{"field":"chars","type":"quantitative","scale":{"domain":[0,37]},"axis":null},"x2":{"datum":0}}}
 ]}
],"spacing":0,"bounds":"flush","align":"each"},
{"hconcat":[
 {"width":213,"height":25,"data":{"values":[]},"mark":"point"},
 {"width":527,"height":25,"data":{"values":[{"text":"图表 4：“中特估”标的 PB 估值与 4 月以来涨跌幅呈现较强负相关（截至 5 月 9 日）"}]},"mark":{"type":"text","font":"Noto Sans CJK SC","fontSize":13,"fontWeight":"bold","color":"#000000"},"encoding":{"text":{"field":"text","type":"nominal"}}}
],"spacing":0,"bounds":"flush","align":"each"},
{"hconcat":[
 {"width":213,"height":1,"data":{"values":[]},"mark":"point"},
 {"width":527,"height":1,"data":{"values":[{}]},"mark":{"type":"rule","color":"#3c3c3c","strokeWidth":1},"encoding":{"y":{"datum":0.5,"type":"quantitative","scale":{"domain":[0,1]},"axis":null}}}
],"spacing":0,"bounds":"flush","align":"each"},
{"width":10,"height":13.5,"data":{"values":[]},"mark":"point"},
{"hconcat":[
 {"width":260,"height":258,"data":{"values":[]},"mark":"point"},
 {"width":463,"height":230,
  "encoding":{
     "x":{"field":"pb","type":"quantitative","scale":{"domain":[0,7],"nice":false,"zero":false},"axis":{"orient":"bottom","values":[0,1,2,3,4,5,6,7],"labelFontSize":13,"labelPadding":9,"domain":false,"ticks":false,"grid":false,"labelFlush":false,"labelOverlap":false,"title":"PB估值","titleX":422,"titleY":-94,"titleAlign":"left","titleBaseline":"middle","titleAngle":0,"titleFont":"Noto Sans CJK SC","titleFontSize":13,"titleFontWeight":"bold","titleColor":"#111111"}},
     "y":{"field":"chg","type":"quantitative","scale":{"domain":[-30,50],"nice":false,"zero":false},"axis":{"orient":"left","values":[-30,-20,-10,0,10,20,30,40,50],"labelExpr":"toString(datum.value)","labelFontSize":13,"labelPadding":4,"labelOverlap":false,"labelFlush":false,"labelBound":false,"domain":true,"domainColor":"#000000","domainWidth":1,"ticks":false,"grid":false,"title":"4月以来涨跌幅（%）","titleX":7,"titleY":18,"titleAlign":"left","titleBaseline":"middle","titleAngle":0,"titleFont":"Noto Sans CJK SC","titleFontSize":13,"titleFontWeight":"bold","titleColor":"#111111"}}
  },
  "layer":[
   {"data":{"name":"arrow"},"mark":{"type":"line","fill":{"gradient":"linear","x1":0,"y1":0,"x2":1,"y2":0,"stops":[{"offset":0,"color":"#fbe4e4"},{"offset":1,"color":"#f3bcbd"}]},"strokeWidth":0,"strokeOpacity":0},"encoding":{"order":{"field":"k","type":"quantitative"}}},
   {"data":{"name":"pts"},"mark":{"type":"point","shape":"diamond","filled":true,"color":"#1e3b8b","size":42,"opacity":1}},
   {"data":{"values":[{"pb":0,"chg":0,"pb2":7}]},"mark":{"type":"rule","color":"#000000","strokeWidth":1},"encoding":{"x2":{"field":"pb2"}}}
 ]}
],"spacing":0,"bounds":"flush","align":"each"},
{"hconcat":[
 {"width":213,"height":1,"data":{"values":[]},"mark":"point"},
 {"width":527,"height":1,"data":{"values":[{}]},"mark":{"type":"rule","color":"#8c8c8c","strokeWidth":1},"encoding":{"y":{"datum":0.5,"type":"quantitative","scale":{"domain":[0,1]},"axis":null}}}
],"spacing":0,"bounds":"flush","align":"each"},
{"hconcat":[
 {"width":223,"height":20,"data":{"values":[]},"mark":"point"},
 {"width":300,"height":20,"data":{"values":[{"text":"资料来源：Wind，兴业证券经济与金融研究院整理"}]},"mark":{"type":"text","align":"left","font":"Noto Sans CJK SC","fontSize":12,"color":"#333333"},"encoding":{"text":{"field":"text","type":"nominal"},"x":{"datum":0,"type":"quantitative","scale":{"domain":[0,1]},"axis":null}}}
],"spacing":0,"bounds":"flush","align":"each"},
{"width":10,"height":13,"data":{"values":[]},"mark":"point"},
{"hconcat":[
 {"width":48,"height":25,"data":{"values":[]},"mark":"point"},
 {"width":600,"height":25,"data":{"values":[{"text":"图表 5：“中特估”PB 估值与涨跌幅匹配度（截至 5 月 9 日）"}]},"mark":{"type":"text","align":"left","font":"Noto Sans CJK SC","fontSize":14,"fontWeight":"bold","color":"#000000"},"encoding":{"text":{"field":"text","type":"nominal"},"x":{"datum":0,"type":"quantitative","scale":{"domain":[0,1]},"axis":null}}}
],"spacing":0,"bounds":"flush","align":"each"},
{"hconcat":[
 {"width":45,"height":2,"data":{"values":[]},"mark":"point"},
 {"width":712,"height":2,"data":{"values":[{}]},"mark":{"type":"rule","color":"#3c3c3c","strokeWidth":1.5},"encoding":{"y":{"datum":0.5,"type":"quantitative","scale":{"domain":[0,1]},"axis":null}}}
],"spacing":0,"bounds":"flush","align":"each"},
{"width":10,"height":28.25,"data":{"values":[]},"mark":"point"},
{"hconcat":[
 {"width":89,"height":294,"data":{"values":[]},"mark":"point"},
 {"width":616,"height":260,"layer":[
   {"data":{"values":[{"t":2023.14,"v":0.243}]},"mark":{"type":"circle","size":1150,"color":"#e9b4b6","opacity":0.7},"encoding":{
     "x":{"field":"t","type":"quantitative","scale":{"domain":[2010,2023.36],"nice":false,"zero":false},"axis":{"orient":"bottom","values":[2010,2011,2012,2013,2014,2015,2016,2017,2018,2019,2020,2021,2022,2023],"labelExpr":"toString(datum.value)","labelFontSize":13.5,"labelPadding":9,"domain":false,"ticks":false,"grid":false,"title":null,"labelFlush":false,"labelOverlap":false}},
     "y":{"field":"v","type":"quantitative","scale":{"domain":[-0.6,0.4],"nice":false,"zero":false},"axis":null}}},
   {"data":{"values":[{}]},"mark":{"type":"rule","color":"#000000","strokeWidth":1},"encoding":{"y":{"datum":0,"type":"quantitative","scale":{"domain":[-0.6,0.4],"nice":false,"zero":false},"axis":null}}},
   {"data":{"values":[{"v":0.203},{"v":-0.386}]},"mark":{"type":"rule","strokeWidth":1.5},"encoding":{
     "y":{"field":"v","type":"quantitative","scale":{"domain":[-0.6,0.4],"nice":false,"zero":false},"axis":null},
     "color":{"datum":"均值±1.5*标准差","type":"nominal","scale":{"domain":["估值-涨跌幅匹配度（左轴）","均值±1.5*标准差","“中特估”/全A（右轴）"],"range":["#1c3a8e","#a6a6a6","#e8262d"]},"legend":{"title":null,"orient":"none","legendX":111,"legendY":677,"direction":"horizontal"}},
     "strokeDash":{"datum":"均值±1.5*标准差","type":"nominal","scale":{"domain":["估值-涨跌幅匹配度（左轴）","均值±1.5*标准差","“中特估”/全A（右轴）"],"range":[[1,0],[5,4],[1,0]]},"legend":{"title":null,"orient":"none","legendX":111,"legendY":677,"direction":"horizontal"}}}},
   {"data":{"name":"blue"},"mark":{"type":"line","strokeWidth":2.2},"encoding":{
     "x":{"field":"t","type":"quantitative","scale":{"domain":[2010,2023.36],"nice":false,"zero":false},"axis":{"orient":"bottom","values":[2010,2011,2012,2013,2014,2015,2016,2017,2018,2019,2020,2021,2022,2023],"labelExpr":"toString(datum.value)","labelFontSize":13.5,"labelPadding":9,"domain":false,"ticks":false,"grid":false,"title":null,"labelFlush":false,"labelOverlap":false}},
     "y":{"field":"v","type":"quantitative","scale":{"domain":[-0.6,0.4],"nice":false,"zero":false},"axis":{"orient":"left","values":[0.4,0.3,0.2,0.1,0,-0.1,-0.2,-0.3,-0.4,-0.5,-0.6],"labelExpr":"toString(round(datum.value*10)/10)","labelFontSize":13.5,"labelPadding":6,"labelOverlap":false,"domain":true,"domainColor":"#000000","domainWidth":1,"ticks":false,"grid":false,"title":null}},
     "color":{"datum":"估值-涨跌幅匹配度（左轴）","type":"nominal","scale":{"domain":["估值-涨跌幅匹配度（左轴）","均值±1.5*标准差","“中特估”/全A（右轴）"],"range":["#1c3a8e","#a6a6a6","#e8262d"]},"legend":{"title":null,"orient":"none","legendX":111,"legendY":677,"direction":"horizontal"}},
     "strokeDash":{"datum":"估值-涨跌幅匹配度（左轴）","type":"nominal","scale":{"domain":["估值-涨跌幅匹配度（左轴）","均值±1.5*标准差","“中特估”/全A（右轴）"],"range":[[1,0],[5,4],[1,0]]},"legend":{"title":null,"orient":"none","legendX":111,"legendY":677,"direction":"horizontal"}}}},
   {"data":{"name":"red"},"mark":{"type":"line","strokeWidth":2},"encoding":{
     "x":{"field":"t","type":"quantitative","scale":{"domain":[2010,2023.36],"nice":false,"zero":false},"axis":{"orient":"bottom","values":[2010,2011,2012,2013,2014,2015,2016,2017,2018,2019,2020,2021,2022,2023],"labelExpr":"toString(datum.value)","labelFontSize":13.5,"labelPadding":9,"domain":false,"ticks":false,"grid":false,"title":null,"labelFlush":false,"labelOverlap":false}},
     "y":{"field":"r","type":"quantitative","scale":{"domain":[2,5],"nice":false,"zero":false},"axis":{"orient":"right","values":[2,2.5,3,3.5,4,4.5,5],"labelExpr":"toString(datum.value)","labelFontSize":13.5,"labelPadding":11,"labelOverlap":false,"domain":false,"ticks":false,"grid":false,"title":null}},
     "color":{"datum":"“中特估”/全A（右轴）","type":"nominal","scale":{"domain":["估值-涨跌幅匹配度（左轴）","均值±1.5*标准差","“中特估”/全A（右轴）"],"range":["#1c3a8e","#a6a6a6","#e8262d"]},"legend":{"title":null,"orient":"none","legendX":111,"legendY":677,"direction":"horizontal"}},
     "strokeDash":{"datum":"“中特估”/全A（右轴）","type":"nominal","scale":{"domain":["估值-涨跌幅匹配度（左轴）","均值±1.5*标准差","“中特估”/全A（右轴）"],"range":[[1,0],[5,4],[1,0]]},"legend":{"title":null,"orient":"none","legendX":111,"legendY":677,"direction":"horizontal"}}}}
 ],"resolve":{"scale":{"y":"independent"}}}
],"spacing":0,"bounds":"flush","align":"each"},
{"hconcat":[
 {"width":56,"height":1,"data":{"values":[]},"mark":"point"},
 {"width":680,"height":1,"data":{"values":[{}]},"mark":{"type":"rule","color":"#8c8c8c","strokeWidth":1},"encoding":{"y":{"datum":0.5,"type":"quantitative","scale":{"domain":[0,1]},"axis":null}}}
],"spacing":0,"bounds":"flush","align":"each"},
{"hconcat":[
 {"width":52,"height":20,"data":{"values":[]},"mark":"point"},
 {"width":300,"height":20,"data":{"values":[{"text":"资料来源：Wind，兴业证券经济与金融研究院整理"}]},"mark":{"type":"text","align":"left","font":"Noto Sans CJK SC","fontSize":12,"color":"#333333"},"encoding":{"text":{"field":"text","type":"nominal"},"x":{"datum":0,"type":"quantitative","scale":{"domain":[0,1]},"axis":null}}}
],"spacing":0,"bounds":"flush","align":"each"},
{"width":10,"height":5,"data":{"values":[]},"mark":"point"},
{"hconcat":[
 {"width":47,"height":2,"data":{"values":[]},"mark":"point"},
 {"width":705,"height":2,"data":{"values":[{}]},"mark":{"type":"rule","color":"#25346a","strokeWidth":2},"encoding":{"y":{"datum":0.5,"type":"quantitative","scale":{"domain":[0,1]},"axis":null}}}
],"spacing":0,"bounds":"flush","align":"each"},
{"width":802,"height":22,"data":{"values":[{"text":"请务必阅读正文之后的信息披露和重要声明"}]},"mark":{"type":"text","font":"Noto Sans CJK SC","fontSize":13.5,"color":"#24399a"},"encoding":{"text":{"field":"text","type":"nominal"}}},
{"hconcat":[
 {"width":600,"height":10,"data":{"values":[]},"mark":"point"},
 {"width":150,"height":10,"data":{"values":[{"text":"- 5 -"}]},"mark":{"type":"text","align":"right","font":"Noto Sans","fontSize":13,"color":"#333333"},"encoding":{"text":{"field":"text","type":"nominal"},"x":{"datum":1,"type":"quantitative","scale":{"domain":[0,1]},"axis":null}}}
],"spacing":0,"bounds":"flush","align":"each"},
{"width":10,"height":43,"data":{"values":[]},"mark":"point"}
],
"config":{
 "view":{"stroke":null},
 "axis":{"labelFont":"Liberation Serif","labelColor":"#1a1a1a","grid":false},
 "legend":{"symbolType":"stroke","symbolSize":900,"symbolStrokeWidth":2,"labelFont":"Noto Sans CJK SC","labelFontSize":13,"labelColor":"#333333","labelLimit":400,"columnPadding":25,"labelOffset":7,"padding":0}
}
}
